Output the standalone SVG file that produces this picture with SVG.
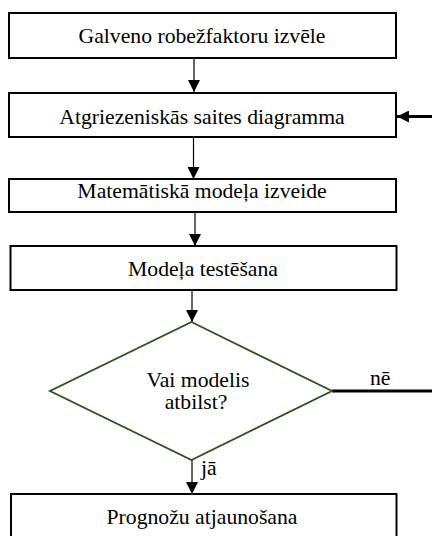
<svg xmlns="http://www.w3.org/2000/svg" width="432" height="536" viewBox="0 0 432 536">
  <style>
    .box { fill: #ffffff; stroke: #000000; stroke-width: 2; }
    .dec { fill: #ffffff; stroke: #2f4f1c; stroke-width: 1.8; }
    .lbl { font-family: "Liberation Serif", "Times New Roman", serif; font-size: 21.7px; fill: #000000; text-anchor: middle; }
    .tag { font-family: "Liberation Serif", "Times New Roman", serif; font-size: 21.7px; fill: #000000; }
    .flow { stroke: #000000; stroke-width: 1.2; fill: none; }
    .thick { stroke: #000000; stroke-width: 3; fill: none; }
  </style>
  <defs>
    <marker id="head" markerUnits="userSpaceOnUse" markerWidth="12" markerHeight="12" viewBox="0 0 12 12" refX="12" refY="6" orient="auto">
      <path d="M0,0 L12,6 L0,12 Z" fill="#000000"/>
    </marker>
  </defs>

  <rect width="432" height="536" fill="#ffffff"/>

  <!-- connectors -->
  <g id="connectors">
    <line class="flow" x1="194" y1="58" x2="194" y2="92" marker-end="url(#head)"/>
    <line class="flow" x1="193.5" y1="134" x2="193.5" y2="179" marker-end="url(#head)"/>
    <line class="flow" x1="195" y1="212" x2="195" y2="246" marker-end="url(#head)"/>
    <line class="flow" x1="192" y1="289" x2="192" y2="322" marker-end="url(#head)"/>
    <line class="flow" x1="192" y1="460" x2="192" y2="494" marker-end="url(#head)"/>
    <line class="thick" x1="332" y1="391" x2="432" y2="391"/>
    <line class="thick" x1="432" y1="116.5" x2="397" y2="116.5" marker-end="url(#head)"/>
    <text class="tag" x="370" y="385">nē</text>
    <text class="tag" x="201" y="475">jā</text>
  </g>

  <!-- nodes -->
  <g id="n1">
    <rect class="box" x="9" y="13" width="387" height="45"/>
    <text class="lbl" x="202" y="42.5">Galveno robežfaktoru izvēle</text>
  </g>
  <g id="n2">
    <rect class="box" x="9" y="93" width="387" height="44"/>
    <text class="lbl" x="202" y="124">Atgriezeniskās saites diagramma</text>
  </g>
  <g id="n3">
    <rect class="box" x="9" y="179" width="387" height="33"/>
    <text class="lbl" x="202" y="197.5">Matemātiskā modeļa izveide</text>
  </g>
  <g id="n4">
    <rect class="box" x="10.5" y="246" width="386" height="44"/>
    <text class="lbl" x="203" y="276">Modeļa testēšana</text>
  </g>
  <g id="n5">
    <polygon class="dec" points="191.5,322 332,391 191.5,460 50,391"/>
    <text class="lbl" x="198" y="386.5">Vai modelis</text>
    <text class="lbl" x="196" y="409">atbilst?</text>
  </g>
  <g id="n6">
    <rect class="box" x="11" y="494" width="385.5" height="50"/>
    <text class="lbl" x="202" y="523.5">Prognožu atjaunošana</text>
  </g>
</svg>
